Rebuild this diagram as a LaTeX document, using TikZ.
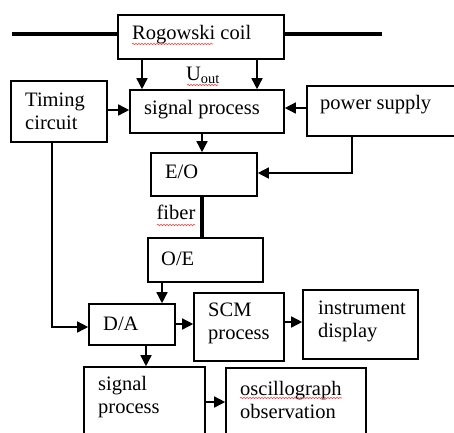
\documentclass[tikz,border=0pt]{standalone}
\usepackage{fontspec}
\setmainfont{Liberation Serif}
\usetikzlibrary{arrows.meta,decorations.pathmorphing}
\begin{document}
\begin{tikzpicture}[x=1pt,y=-1pt,
  box/.style={draw,line width=1.6pt,minimum width=#1,inner sep=0pt},
  txt/.style={anchor=west,inner sep=0pt,font=\fontsize{20.5}{23}\selectfont,align=left},
  arr/.style={line width=1.5pt,-{Triangle[length=11pt,width=11pt]}},
  heavy/.style={line width=4pt},
  squig/.style={red!75,line width=0.6pt,decorate,decoration={snake,amplitude=0.7pt,segment length=3pt}}]
\clip (0,0) rectangle (454,432);
\fill[white] (0,0) rectangle (454,432);
% boxes
\node[box=166pt,minimum height=44pt] (rog) at (201,37) {};
\node[box=154pt,minimum height=43pt] (sp) at (207,111.5) {};
\node[box=96pt,minimum height=61pt] (tim) at (59,111.5) {};
\node[box=160pt,minimum height=50pt] (pw) at (387,111) {};
\node[box=106pt,minimum height=43pt] (eo) at (204,174.5) {};
\node[box=115pt,minimum height=44pt] (oe) at (205.5,260) {};
\node[box=86pt,minimum height=41pt] (da) at (132,324.5) {};
\node[box=90pt,minimum height=68pt] (scm) at (239,327) {};
\node[box=115pt,minimum height=69pt] (inst) at (360.5,324.5) {};
\node[box=121pt,minimum height=76pt] (sp2) at (144.5,405) {};
\node[box=140pt,minimum height=76pt] (osc) at (296,406) {};
% texts
\node[txt] (trog) at (132,35) {Rogowski coil};
\node[txt] (tsp) at (144,110) {signal process};
\node[txt] (ttim) at (25,111.5) {Timing\\circuit};
\node[txt] (tpw) at (320,105) {power supply};
\node[txt] (teo) at (165,172) {E/O};
\node[txt] (toe) at (161,259) {O/E};
\node[txt] (tda) at (103,324) {D/A};
\node[txt] (tscm) at (208,323.5) {SCM\\process};
\node[txt] (tinst) at (318,321.5) {instrument\\display};
\node[txt] (tsp2) at (98,397.5) {signal\\process};
\node[txt] (tosc) at (240,399.5) {oscillograph\\observation};
\node[anchor=center,inner sep=0pt,font=\fontsize{20.5}{23}\selectfont] (uout) at (203,75) {U\textsubscript{out}};
\node[anchor=center,inner sep=0pt,font=\fontsize{20.5}{23}\selectfont] (fib) at (176,212) {fiber};
% spell-check underlines
\draw[squig] (132,44) -- (213,44);
\draw[squig] (187,85) -- (218,85);
\draw[squig] (157,225) -- (195,225);
\draw[squig] (240,398) -- (342,398);
% conductor line through the coil
\coordinate (wl) at (12,34);
\coordinate (wr) at (382,34);
\draw[heavy] (wl) -- (wl -| rog.west);
\draw[heavy] (rog.east |- wr) -- (wr);
% connectors
\coordinate (x142) at (142,0);
\coordinate (x257) at (257,0);
\coordinate (x202) at (202,0);
\coordinate (x352) at (352,0);
\coordinate (x162) at (162,0);
\coordinate (x52) at (52,0);
\coordinate (x146) at (146,0);
\coordinate (y110) at (0,110);
\coordinate (y108) at (0,108);
\coordinate (y173) at (0,173);
\coordinate (y327) at (0,327);
\coordinate (y324) at (0,324);
\coordinate (y322) at (0,322);
\coordinate (y402) at (0,402);
\draw[arr] (rog.south -| x142) -- (sp.north -| x142);
\draw[arr] (rog.south -| x257) -- (sp.north -| x257);
\draw[arr] (tim.east |- y110) -- (sp.west |- y110);
\draw[arr] (pw.west |- y108) -- (sp.east |- y108);
\draw[arr] (sp.south -| x202) -- (eo.north -| x202);
\draw[arr] (pw.south -| x352) -- (x352 |- y173) -- (eo.east |- y173);
\draw[heavy] (eo.south -| x202) -- (oe.north -| x202);
\draw[arr] (oe.south -| x162) -- (da.north -| x162);
\draw[arr] (tim.south -| x52) -- (x52 |- y327) -- (da.west |- y327);
\draw[arr] (da.east |- y324) -- (scm.west |- y324);
\draw[arr] (scm.east |- y322) -- (inst.west |- y322);
\draw[arr] (da.south -| x146) -- (sp2.north -| x146);
\draw[arr] (sp2.east |- y402) -- (osc.west |- y402);
\end{tikzpicture}
\end{document}
